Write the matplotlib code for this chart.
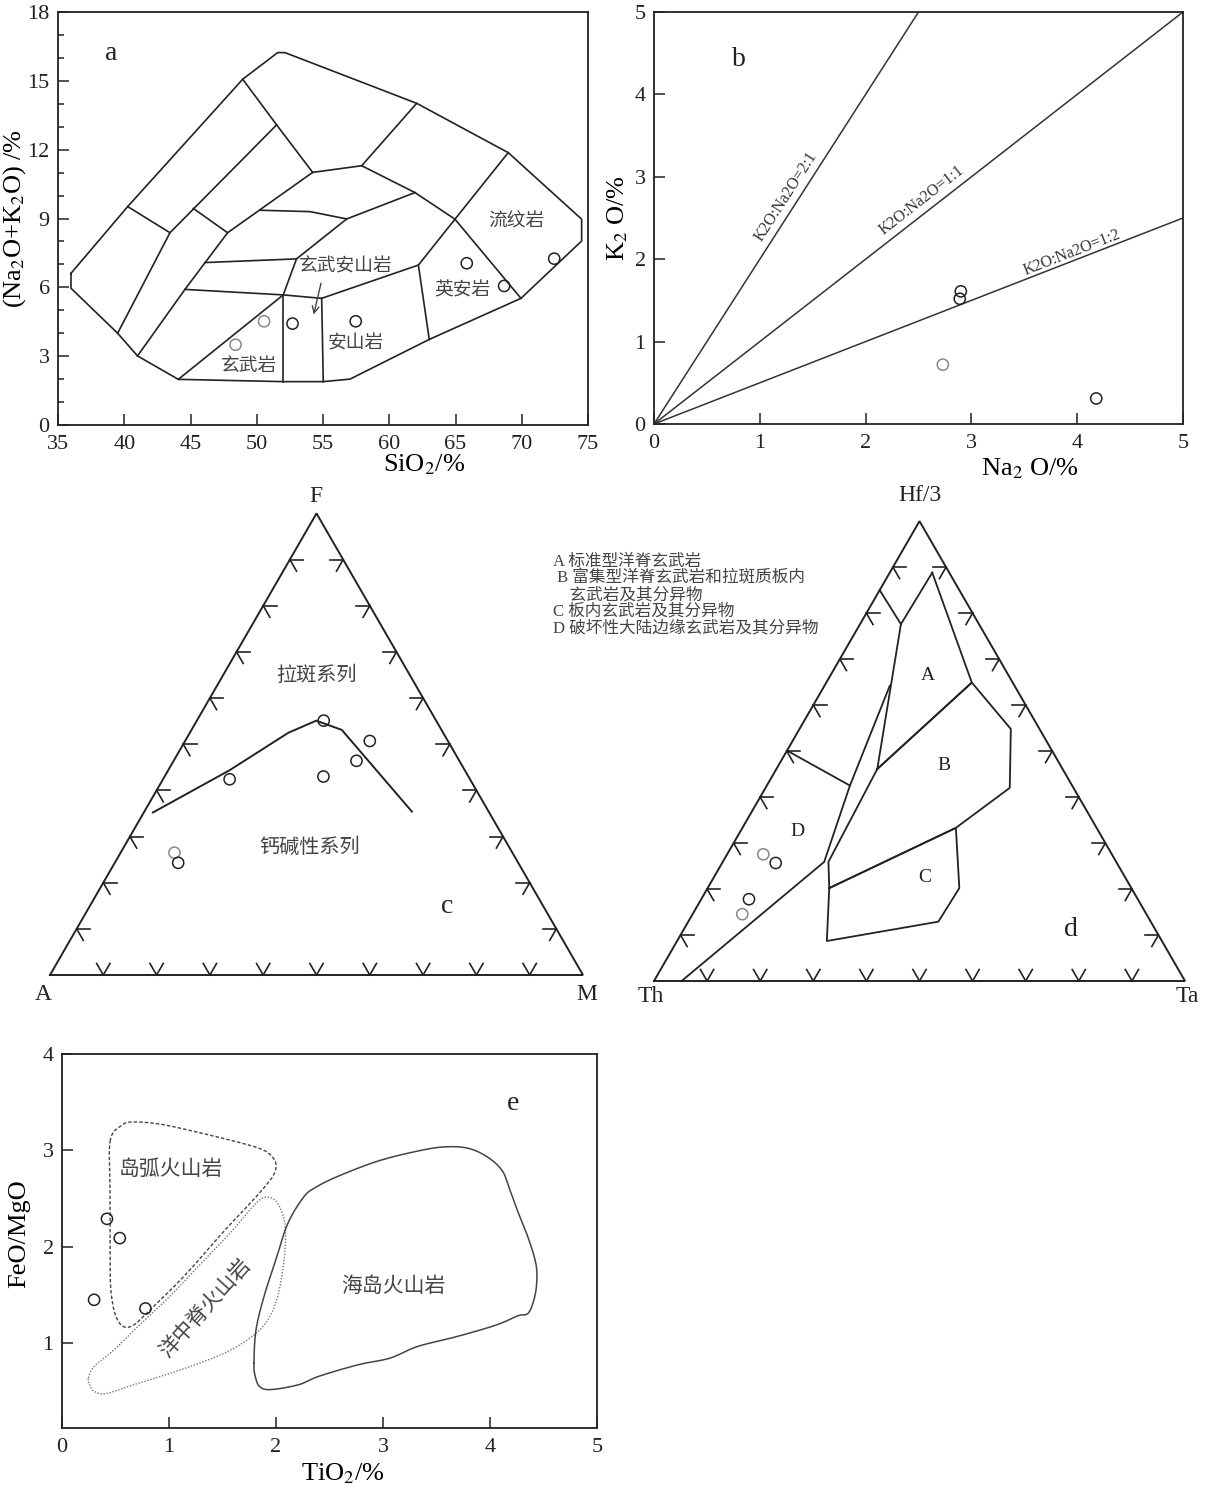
import numpy as np
import matplotlib.pyplot as plt
from matplotlib.ticker import MultipleLocator

plt.rcParams['font.family'] = ['Liberation Serif', 'Noto Sans CJK SC']
plt.rcParams['mathtext.fontset'] = 'stix'

W, H = 1211, 1488
INK = '#222222'
CJK_INK = '#444444'

# ---------------- a: TAS diagram ----------------
tas_outline = [(35.98, 6.61), (40.26, 9.52), (48.94, 15.07), (51.58, 16.23), (52.13, 16.23),
               (62.07, 14.02), (68.98, 11.87), (74.52, 8.97), (74.52, 8.02), (69.94, 5.52),
               (63.02, 3.73), (57.04, 2.0), (55.02, 1.89), (52.0, 1.89), (44.08, 1.99),
               (41.0, 3.01), (39.5, 4.0), (35.98, 5.96), (35.98, 6.61)]
tas_lines = [
    [(40.26, 9.52), (43.45, 8.38)],
    [(39.5, 4.0), (43.45, 8.38), (51.5, 13.08)],
    [(45.21, 9.44), (47.8, 8.38)],
    [(41.0, 3.01), (44.58, 5.91), (47.8, 8.38), (54.22, 11.01)],
    [(48.94, 15.07), (51.5, 13.08), (54.22, 11.01)],
    [(54.22, 11.01), (57.92, 11.3), (62.07, 14.02)],
    [(57.92, 11.3), (61.94, 10.13), (64.96, 8.97)],
    [(68.98, 11.87), (64.96, 8.97), (69.94, 5.52)],
    [(50.25, 9.36), (54.02, 9.3), (56.79, 8.98), (61.94, 10.13)],
    [(46.1, 7.08), (53.0, 7.24), (56.79, 8.98)],
    [(44.58, 5.91), (52.0, 5.67), (54.9, 5.52), (62.2, 6.97), (64.96, 8.97)],
    [(53.0, 7.24), (52.0, 5.67), (44.08, 1.99)],
    [(52.0, 5.67), (52.0, 1.89)],
    [(54.9, 5.52), (55.02, 1.89)],
    [(62.2, 6.97), (63.02, 3.73)],
]
tas_sio2 = [48.4, 50.55, 52.7, 57.47, 65.85, 68.67, 72.45]
tas_alk = [3.5, 4.52, 4.42, 4.52, 7.05, 6.06, 7.25]
tas_grey = [True, True, False, False, False, False, False]

# ---------------- b: K2O vs Na2O ----------------
na2o = [2.90, 2.89, 2.73, 4.18]
k2o = [1.61, 1.52, 0.72, 0.31]
b_grey = [False, False, True, False]
ratios = [2.0, 1.0, 0.5]
ratio_labels = ['K2O:Na2O=2:1', 'K2O:Na2O=1:1', 'K2O:Na2O=1:2']

# ---------------- c: AFM (A, F, M in %) ----------------
afm_line_A = [63.1, 44.15, 29.0, 22.5, 18.7, 14.4]
afm_line_F = [35.2, 44.35, 52.5, 55.1, 53.1, 35.4]
afm_line_M = [1.7, 11.5, 18.5, 22.4, 28.2, 50.2]
afm_A = [21.1, 14.65, 19.3, 27.2, 45.1, 63.4, 63.8]
afm_F = [55.1, 50.7, 46.4, 43.0, 42.4, 26.5, 24.3]
afm_M = [23.8, 34.65, 34.3, 29.8, 12.5, 10.1, 11.9]
afm_grey = [False, False, False, False, False, True, False]

# ---------------- d: Hf/3-Th-Ta (Hf, Th, Ta in %) ----------------
A_top = (88.8, 3.2, 8.0)
A_right = (64.9, 7.7, 27.4)
A_bottom = (46.1, 34.9, 19.0)
A_left_top = (77.6, 14.7, 7.7)
A_edge = (85.0, 15.0, 0.0)
D_branch = (64.2, 23.5, 12.3)
D_mid = (42.5, 41.85, 15.65)
D_edge = (50.1, 49.9, 0.0)
D_bottom = (25.9, 55.0, 19.1)
D_base = (0.0, 94.8, 5.2)
B_right1 = (54.8, 5.4, 39.8)
B_right2 = (42.0, 12.0, 46.0)
BC_join = (33.3, 26.5, 40.2)
B_left = (25.9, 54.2, 19.9)
BC_left = (20.2, 56.9, 22.9)
C_right1 = (20.2, 32.4, 47.4)
C_right2 = (12.9, 40.0, 47.1)
C_low = (8.7, 63.1, 28.2)
d_fields = [
    [A_top, A_right, A_bottom, A_left_top, A_top],
    [A_left_top, A_edge],
    [A_bottom, A_right, B_right1, B_right2, BC_join, BC_left, B_left, A_bottom],
    [BC_left, BC_join, C_right1, C_right2, C_low, BC_left],
    [D_branch, D_mid, D_bottom, D_base],
    [D_edge, D_mid],
]
d_Hf = [27.55, 25.66, 17.79, 14.53]
d_Ta = [6.81, 10.09, 8.99, 9.36]
d_Th = [65.64, 64.25, 73.22, 76.11]
d_grey = [True, False, False, True]
d_legend = ['A 标准型洋脊玄武岩', ' B 富集型洋脊玄武岩和拉斑质板内', '    玄武岩及其分异物',
            'C 板内玄武岩及其分异物', 'D 破坏性大陆边缘玄武岩及其分异物']

# ---------------- e: FeO/MgO vs TiO2 ----------------
arc_ti = [0.45, 0.56, 0.67, 0.93, 1.30, 1.665, 1.87, 1.96, 2.0, 1.98, 1.89, 1.74, 1.52, 1.30,
          1.076, 0.855, 0.707, 0.634, 0.578, 0.53, 0.486, 0.457, 0.45, 0.45]
arc_fm = [3.095, 3.26, 3.295, 3.27, 3.18, 3.08, 3.01, 2.94, 2.855, 2.75, 2.615, 2.43, 2.17, 1.89,
          1.62, 1.38, 1.22, 1.17, 1.17, 1.22, 1.34, 1.55, 1.82, 2.51]
mor_ti = [0.247, 0.302, 0.486, 0.707, 1.002, 1.297, 1.592, 1.776, 1.887, 1.997, 2.071, 2.089,
          2.071, 2.015, 1.923, 1.776, 1.518, 1.113, 0.671, 0.413, 0.302, 0.258]
mor_fm = [0.64, 0.76, 0.93, 1.17, 1.48, 1.824, 2.168, 2.408, 2.511, 2.477, 2.305, 2.099,
          1.824, 1.48, 1.24, 1.069, 0.897, 0.725, 0.57, 0.477, 0.5, 0.57]
oib_ti = [1.794, 1.813, 1.887, 1.997, 2.108, 2.255, 2.366, 2.587, 2.955, 3.324, 3.581, 3.803,
          3.987, 4.116, 4.178, 4.245, 4.355, 4.429, 4.436, 4.41, 4.355, 4.263, 4.06, 3.692,
          3.324, 3.066, 2.771, 2.402, 2.218, 1.96, 1.85, 1.806]
oib_fm = [0.794, 1.137, 1.481, 1.859, 2.236, 2.511, 2.614, 2.735, 2.89, 2.993, 3.037, 3.02,
          2.924, 2.786, 2.614, 2.408, 2.099, 1.824, 1.618, 1.447, 1.309, 1.285, 1.189, 1.069,
          0.966, 0.845, 0.777, 0.657, 0.571, 0.519, 0.546, 0.656]
e_ti = [0.30, 0.42, 0.54, 0.78]
e_fm = [1.45, 2.29, 2.09, 1.36]


def rect(x0, y0, x1, y1):
    return [x0 / W, 1 - y1 / H, (x1 - x0) / W, (y1 - y0) / H]


def ftext(px, py, s, **kw):
    fig.text(px / W, 1 - py / H, s, **kw)


def circles(ax, x, y, grey):
    ec = ['#888888' if g else INK for g in grey]
    ax.scatter(x, y, s=65, facecolors='none', edgecolors=ec, linewidths=1.1, zorder=5, clip_on=False)


def smooth_closed(xs, ys, n=14):
    p = np.column_stack([xs, ys]).astype(float)
    m = len(p)
    t = np.linspace(0, 1, n, endpoint=False)[:, None]
    out = []
    for i in range(m):
        p0, p1, p2, p3 = p[i - 1], p[i], p[(i + 1) % m], p[(i + 2) % m]
        out.append(0.5 * (2 * p1 + (-p0 + p2) * t + (2 * p0 - 5 * p1 + 4 * p2 - p3) * t ** 2
                          + (-p0 + 3 * p1 - 3 * p2 + p3) * t ** 3))
    out = np.vstack(out)
    out = np.vstack([out, out[:1]])
    return out[:, 0], out[:, 1]


def tern_xy(bottom_right, top):
    r = np.asarray(bottom_right, float) / 100
    t = np.asarray(top, float) / 100
    return r + t / 2, t * np.sqrt(3) / 2


def ternary_axes(x0, y0, x1, y1, ox, oy, s):
    ax = fig.add_axes(rect(x0, y0, x1, y1))
    ax.set_xlim((x0 - ox) / s, (x1 - ox) / s)
    ax.set_ylim((oy - y1) / s, (oy - y0) / s)
    ax.set_axis_off()
    h = np.sqrt(3) / 2
    ax.plot([0, 1, 0.5, 0], [0, 0, h, 0], color=INK, lw=1.4, solid_joinstyle='miter')
    L = 0.025
    for k in range(1, 10):
        t = k / 10
        marks = [((t, 0), [(0.5, h), (-0.5, h)]),
                 ((0.5 * t, h * t), [(1, 0), (0.5, -h)]),
                 ((1 - 0.5 * t, h * t), [(-1, 0), (-0.5, -h)])]
        for (px, py), dirs in marks:
            for dx, dy in dirs:
                ax.plot([px, px + dx * L], [py, py + dy * L], color=INK, lw=1.2)
    return ax


def box_style(ax):
    for sp in ax.spines.values():
        sp.set_linewidth(1.3)
        sp.set_color(INK)
    ax.tick_params(which='both', direction='in', top=False, right=False, colors=INK,
                   labelsize=16, width=1.1)
    ax.tick_params(axis='x', pad=7)
    ax.tick_params(axis='y', pad=6)
    ax.tick_params(which='major', length=8)
    ax.tick_params(which='minor', length=4)


fig = plt.figure(figsize=(W / 100, H / 100), dpi=100)

# ---- panel a ----
ax = fig.add_axes(rect(58, 12, 588, 425))
ax.set_xlim(35, 75)
ax.set_ylim(0, 18)
ax.xaxis.set_major_locator(MultipleLocator(5))
ax.yaxis.set_major_locator(MultipleLocator(3))
ax.yaxis.set_minor_locator(MultipleLocator(1))
box_style(ax)
ox, oy = zip(*tas_outline)
ax.plot(ox, oy, color=INK, lw=1.2)
for seg in tas_lines:
    sx, sy = zip(*seg)
    ax.plot(sx, sy, color=INK, lw=1.2)
circles(ax, tas_sio2, tas_alk, tas_grey)
for name, (tx, ty) in zip(['玄武岩', '玄武安山岩', '安山岩', '英安岩', '流纹岩'],
                          [(49.4, 2.55), (56.7, 6.9), (57.5, 3.55), (65.5, 5.85), (69.6, 8.85)]):
    ax.text(tx, ty, name, fontsize=13.5, color=CJK_INK, ha='center', va='center')
ax.annotate('', xy=(54.25, 4.7), xytext=(54.9, 6.3),
            arrowprops=dict(arrowstyle='->', color='#444444', lw=1.0, mutation_scale=12))
ax.text(39.0, 16.2, 'a', fontsize=20, ha='center', va='center', color=INK)
ax.set_xlabel('SiO$_2$/%', fontsize=19)
ax.xaxis.set_label_coords(0.69, -0.066)
ax.set_ylabel('(Na$_2$O+K$_2$O) /%', fontsize=19, va='center')
ax.yaxis.set_label_coords(-0.081, 0.5)

# ---- panel b ----
ax = fig.add_axes(rect(654, 12, 1183, 424))
ax.set_xlim(0, 5)
ax.set_ylim(0, 5)
ax.xaxis.set_major_locator(MultipleLocator(1))
ax.yaxis.set_major_locator(MultipleLocator(1))
box_style(ax)
label_pos = [(1.25, 2.76), (2.53, 2.72), (3.95, 2.08)]
for r, lab, (lx, ly) in zip(ratios, ratio_labels, label_pos):
    xe = min(5.0, 5.0 / r)
    ax.plot([0, xe], [0, r * xe], color='#333333', lw=1.1)
    ax.text(lx, ly, lab, fontsize=11.5, ha='center', va='center', color='#333333',
            rotation=np.degrees(np.arctan(r)), rotation_mode='anchor',
            transform_rotates_text=True)
circles(ax, na2o, k2o, b_grey)
ax.text(0.8, 4.42, 'b', fontsize=20, ha='center', va='center', color=INK)
ax.set_xlabel('Na$_2$ O/%', fontsize=19)
ax.xaxis.set_label_coords(0.71, -0.078)
ax.set_ylabel('K$_2$ O/%', fontsize=19, va='center')
ax.yaxis.set_label_coords(-0.068, 0.5)

# ---- panel c ----
ax = ternary_axes(10, 480, 605, 1010, 50, 975, 533)
lx, ly = tern_xy(afm_line_M, afm_line_F)
ax.plot(lx, ly, color=INK, lw=1.4)
px, py = tern_xy(afm_M, afm_F)
circles(ax, px, py, afm_grey)
ftext(316, 497, 'F', fontsize=17, ha='center', va='center', color=INK)
ftext(43, 994, 'A', fontsize=17, ha='center', va='center', color=INK)
ftext(587, 994, 'M', fontsize=17, ha='center', va='center', color=INK)
ftext(447, 907, 'c', fontsize=20, ha='center', va='center', color=INK)
ftext(316, 676, '拉斑系列', fontsize=14.5, ha='center', va='center', color=CJK_INK)
ftext(310, 848, '钙碱性系列', fontsize=14.5, ha='center', va='center', color=CJK_INK)

# ---- panel d ----
ax = ternary_axes(615, 480, 1208, 1010, 654, 981, 531)
for poly in d_fields:
    hf = [p[0] for p in poly]
    ta = [p[2] for p in poly]
    fx, fy = tern_xy(ta, hf)
    ax.plot(fx, fy, color=INK, lw=1.3)
px, py = tern_xy(d_Ta, d_Hf)
circles(ax, px, py, d_grey)
ftext(920, 496, 'Hf/3', fontsize=17, ha='center', va='center', color=INK)
ftext(651, 996, 'Th', fontsize=17, ha='center', va='center', color=INK)
ftext(1187, 996, 'Ta', fontsize=17, ha='center', va='center', color=INK)
for lab, (tx, ty) in zip('ABCD', [(928, 675), (944, 765), (925, 877), (797, 831)]):
    ftext(tx, ty, lab, fontsize=14, ha='center', va='center', color=INK)
ftext(1071, 930, 'd', fontsize=20, ha='center', va='center', color=INK)
for i, line in enumerate(d_legend):
    ftext(553, 562 + i * 16.6, line, fontsize=12, ha='left', va='center', color=CJK_INK)

# ---- panel e ----
ax = fig.add_axes(rect(62, 1054, 597, 1428))
ax.set_xlim(0, 5)
ax.set_ylim(0.12, 4.0)
ax.xaxis.set_major_locator(MultipleLocator(1))
ax.yaxis.set_major_locator(MultipleLocator(1))
box_style(ax)
sx, sy = smooth_closed(arc_ti, arc_fm)
ax.plot(sx, sy, color='#444444', lw=1.0, linestyle=(0, (2.5, 1.5)))
sx, sy = smooth_closed(mor_ti, mor_fm)
ax.plot(sx, sy, color='#777777', lw=1.0, linestyle=(0, (1, 1.2)))
sx, sy = smooth_closed(oib_ti, oib_fm)
ax.plot(sx, sy, color='#444444', lw=1.1)
circles(ax, e_ti, e_fm, [False] * len(e_ti))
ax.text(1.02, 2.79, '岛弧火山岩', fontsize=15, ha='center', va='center', color=CJK_INK)
ax.text(1.35, 1.36, '洋中脊火山岩', fontsize=15, ha='center', va='center', color=CJK_INK,
        rotation=48)
ax.text(3.1, 1.58, '海岛火山岩', fontsize=15, ha='center', va='center', color=CJK_INK)
ax.text(4.22, 3.49, 'e', fontsize=20, ha='center', va='center', color=INK)
ax.set_xlabel('TiO$_2$/%', fontsize=19)
ax.xaxis.set_label_coords(0.525, -0.09)
ax.set_ylabel('FeO/MgO', fontsize=19, va='center')
ax.yaxis.set_label_coords(-0.08, 0.52)

fig.savefig('out.png', dpi=100)
